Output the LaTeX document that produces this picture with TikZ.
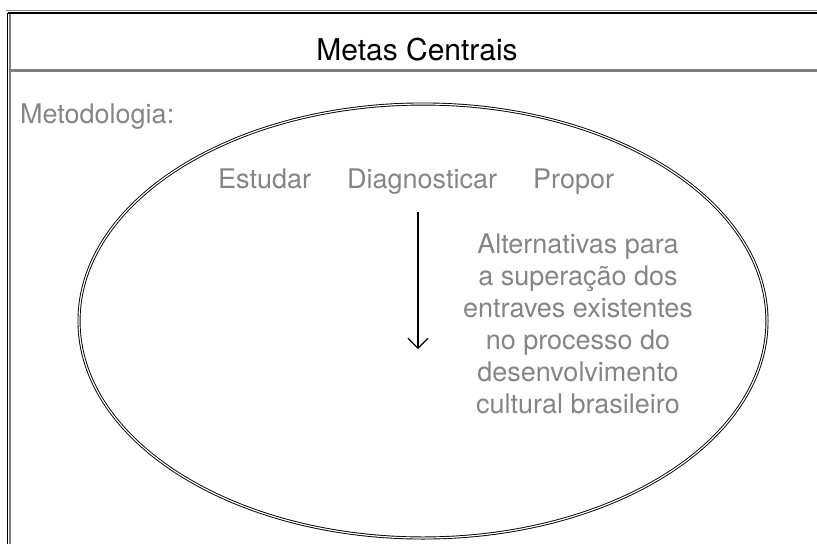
\documentclass[tikz,border=0pt]{standalone}
\usepackage{fontspec}
\setmainfont{TeX Gyre Heros}
\usetikzlibrary{arrows.meta}
\definecolor{txtgray}{HTML}{858585}
\definecolor{bordergray}{HTML}{808080}
\tikzset{
  lighttext/.style={text=txtgray, font=\fontsize{27}{32}\selectfont, inner sep=0pt},
  darkline/.style={draw=black, line width=1.4pt},
  grayline/.style={draw=bordergray, line width=1.4pt},
  ringline/.style={draw=black, line width=0.9pt, double=white, double distance=1.2pt},
  downarrow/.style={draw=black, line width=1.1pt, -{Straight Barb[length=10pt,width=20pt,line width=1.1pt]}}
}
\begin{document}
\begin{tikzpicture}[x=1pt,y=-1pt]
\useasboundingbox (0,0) rectangle (817,544);
% frame
\coordinate (tl1) at (6,10.5);  \coordinate (tr1) at (817,10.5);
\coordinate (tl2) at (7.5,13);  \coordinate (tr2) at (817,13);
\coordinate (lb1) at (7.5,544);
\coordinate (lt2) at (10,14);   \coordinate (lb2) at (10,544);
\coordinate (sl) at (10,70.5);  \coordinate (sr) at (817,70.5);
\draw[grayline] (tl1) -- (tr1);
\draw[darkline] (tl2) -- (tr2);
\draw[darkline] (tl2) -- (lb1);
\draw[grayline] (lt2) -- (lb2);
\draw[draw=bordergray, line width=2.6pt] (sl) -- (sr);
% title
\node[anchor=base, inner sep=0pt, font=\fontsize{30}{36}\selectfont] (title) at (417,60) {Metas Centrais};
\node[lighttext, anchor=base west] (metod) at (20,123) {Metodologia:};
% ellipse
\draw[ringline] (423,321) ellipse [x radius=344, y radius=217];
% words
\node[lighttext, anchor=base west] (estudar) at (218,188) {Estudar};
\node[lighttext, anchor=base west] (diag) at (347,188) {Diagnosticar};
\node[lighttext, anchor=base west] (propor) at (533,188) {Propor};
\coordinate (astart) at (418,212);
\coordinate (aend) at (418,349);
\draw[downarrow] (astart) -- (aend);
\node[lighttext, align=center, anchor=base] (alt) at (578,413) {Alternativas para\\a superação dos\\entraves existentes\\no processo do\\desenvolvimento\\cultural brasileiro};
\end{tikzpicture}
\end{document}
